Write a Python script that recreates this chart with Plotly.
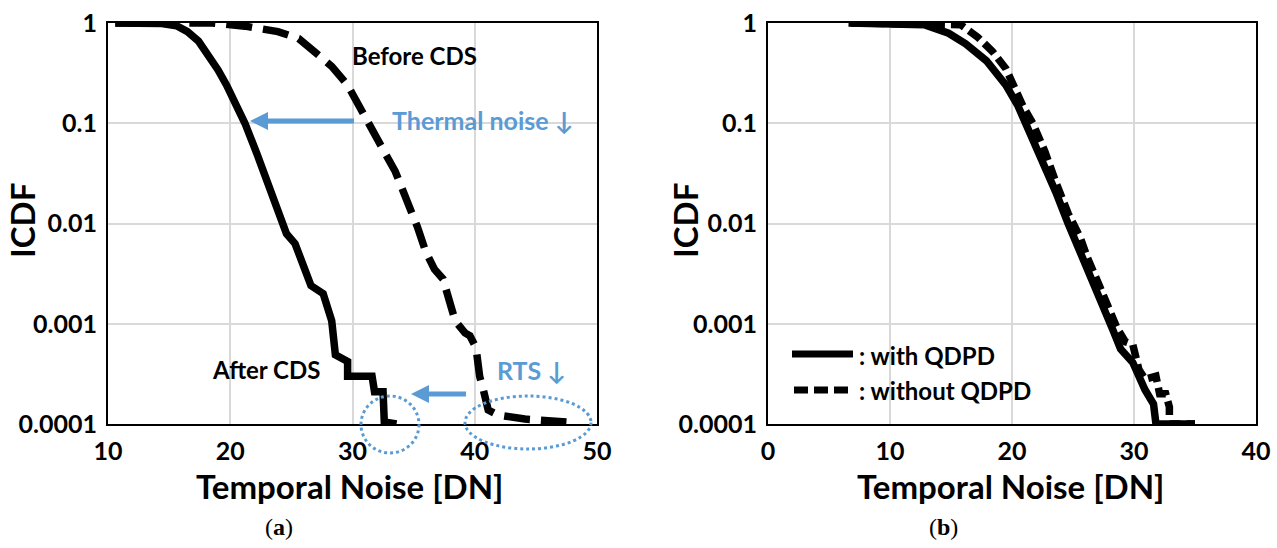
import plotly.graph_objects as go

# ---------------- data ----------------
# (a) After CDS (solid)
after_x = [10.6, 14.4, 15.6, 16.5, 17.4, 18.2, 19.0, 19.7, 20.5, 21.2, 22.2, 23.2, 23.9, 24.6,
           25.3, 25.9, 26.6, 27.6, 28.3, 28.6, 29.0, 29.6, 29.6, 31.6, 31.8, 32.5, 32.6, 33.6]
after_y = [1.0, 0.99, 0.94, 0.82, 0.66, 0.49, 0.34, 0.24, 0.155, 0.1, 0.049, 0.022, 0.0126,
           0.0079, 0.0063, 0.0039, 0.0024, 0.002, 0.00107, 0.00049, 0.00046, 0.00042, 0.0003,
           0.0003, 0.00021, 0.00021, 0.000105, 0.0001]
# (a) Before CDS (dashed)
before_x = [10.6, 18.5, 21.2, 23.9, 25.6, 26.9, 28.3, 29.6, 30.6, 31.6, 32.6, 33.5, 34.3, 35.3,
            36.0, 36.7, 37.4, 38.0, 38.4, 39.2, 39.6, 40.1, 40.4, 40.7, 41.1, 41.9, 44.1, 47.5]
before_y = [1.0, 1.0, 0.93, 0.82, 0.7, 0.52, 0.37, 0.24, 0.148, 0.085, 0.052, 0.033, 0.019,
            0.0093, 0.0052, 0.0035, 0.0028, 0.0016, 0.00107, 0.00081, 0.00076, 0.00058,
            0.0003, 0.00022, 0.000138, 0.000123, 0.000112, 0.000105]
# (b) with QDPD (solid)
with_x = [6.6, 12.8, 14.8, 16.2, 17.9, 19.5, 20.5, 21.5, 22.6, 23.6, 24.6, 25.6, 26.6, 27.6,
          28.3, 28.9, 29.9, 30.9, 31.6, 31.8, 35.0]
with_y = [1.0, 0.96, 0.79, 0.62, 0.42, 0.24, 0.148, 0.079, 0.042, 0.0204, 0.01, 0.0052,
          0.00275, 0.00148, 0.00085, 0.00056, 0.00041, 0.00022, 0.000158, 0.0001, 0.0001]
# (b) without QDPD (dashed)
without_x = [6.8, 15.8, 17.2, 18.4, 19.5, 20.2, 20.9, 21.7, 22.7, 23.6, 24.6, 25.6, 26.2, 27.2,
             27.9, 28.6, 29.3, 29.9, 30.4, 30.9, 31.8, 32.1, 32.6, 32.9, 32.9, 35.0]
without_y = [1.0, 0.96, 0.72, 0.52, 0.35, 0.22, 0.148, 0.1, 0.052, 0.0257, 0.0126, 0.0072,
             0.0045, 0.00234, 0.00148, 0.00091, 0.00066, 0.00062, 0.00035, 0.00028,
             0.0003, 0.0002, 0.0002, 0.000148, 0.0001, 0.0001]

ytick_vals = [0.0001, 0.001, 0.01, 0.1, 1]
ytick_text = ["0.0001", "0.001", "0.01", "0.1", "1"]
xticks_a = [10, 20, 30, 40, 50]
xticks_b = [0, 10, 20, 30, 40]

W, H = 1277, 548
BLUE = "#5B9BD5"
FONT = "Lato"


def px(x):
    return x / W


def py(y):
    return 1 - y / H


def b(s):
    return "<b>" + str(s) + "</b>"


fig = go.Figure()
line_w = 7.5
dash_pat = "26px,11px"

fig.add_trace(go.Scatter(x=after_x, y=after_y, mode="lines", xaxis="x", yaxis="y",
                         line=dict(color="black", width=line_w), showlegend=False))
fig.add_trace(go.Scatter(x=before_x, y=before_y, mode="lines", xaxis="x", yaxis="y",
                         line=dict(color="black", width=line_w, dash=dash_pat), showlegend=False))
fig.add_trace(go.Scatter(x=without_x, y=without_y, mode="lines", xaxis="x2", yaxis="y2",
                         line=dict(color="black", width=line_w, dash="14px,6px"), showlegend=False))
fig.add_trace(go.Scatter(x=with_x, y=with_y, mode="lines", xaxis="x2", yaxis="y2",
                         line=dict(color="black", width=line_w), showlegend=False))

tickfont = dict(family=FONT, size=25, color="black")

common_x = dict(showline=True, linecolor="black", linewidth=2, mirror=True, ticks="",
                showgrid=True, gridcolor="#d9d9d9", gridwidth=1.5, tickfont=tickfont,
                automargin=False, zeroline=False, ticklabelstandoff=4)
common_y = dict(type="log", range=[-4, 0], tickvals=ytick_vals, ticktext=[b(t) for t in ytick_text],
                showline=True, linecolor="black", linewidth=2, mirror=True, ticks="",
                showgrid=True, gridcolor="#d9d9d9", gridwidth=1.5, tickfont=tickfont,
                automargin=False, zeroline=False, ticklabelstandoff=4)

y_dom = [py(424), py(23)]
fig.update_layout(
    width=W, height=H, margin=dict(l=0, r=0, t=0, b=0, autoexpand=False),
    plot_bgcolor="white", paper_bgcolor="white",
    xaxis=dict(domain=[px(108), px(597)], range=[10, 50], tickvals=xticks_a,
               ticktext=[b(t) for t in xticks_a], anchor="y", **common_x),
    yaxis=dict(domain=y_dom, anchor="x", **common_y),
    xaxis2=dict(domain=[px(768), px(1256)], range=[0, 40], tickvals=xticks_b,
                ticktext=[b(t) for t in xticks_b], anchor="y2", **common_x),
    yaxis2=dict(domain=y_dom, anchor="x2", **common_y),
)

title_font = dict(family=FONT, size=33, color="black")
ann_font = dict(family=FONT, size=24, color="black")
blue_font = dict(family=FONT, size=25, color=BLUE)
cap_font = dict(family="Liberation Serif", size=24, color="black")
annots = [
    dict(x=px(349), y=py(486), text=b("Temporal Noise [DN]"), font=title_font),
    dict(x=px(1010), y=py(486), text=b("Temporal Noise [DN]"), font=title_font),
    dict(x=px(22), y=py(221), text=b("ICDF"), font=title_font, textangle=-90),
    dict(x=px(685), y=py(221), text=b("ICDF"), font=title_font, textangle=-90),
    dict(x=px(414), y=py(56), text=b("Before CDS"), font=ann_font),
    dict(x=px(482), y=py(120), text=b("Thermal noise ↓"), font=blue_font),
    dict(x=px(266), y=py(369), text=b("After CDS"), font=ann_font),
    dict(x=px(531), y=py(370), text=b("RTS ↓"), font=blue_font),
    dict(x=px(857), y=py(355), text=b(": with QDPD"), font=ann_font, xanchor="left"),
    dict(x=px(857), y=py(390), text=b(": without QDPD"), font=ann_font, xanchor="left"),
    dict(x=px(279), y=py(527), text="(<b>a</b>)", font=cap_font),
    dict(x=px(943), y=py(527), text="(<b>b</b>)", font=cap_font),
]
for a in annots:
    a.setdefault("xanchor", "center")
    fig.add_annotation(xref="paper", yref="paper", showarrow=False, yanchor="middle", **a)

shapes = []


def arrow(x_tail, x_tip, yy, head=18, half=9, width=5):
    shapes.append(dict(type="line", xref="paper", yref="paper",
                       x0=px(x_tail), x1=px(x_tip + head - 1), y0=py(yy), y1=py(yy),
                       line=dict(color=BLUE, width=width)))
    path = "M {},{} L {},{} L {},{} Z".format(px(x_tip), py(yy), px(x_tip + head), py(yy - half),
                                              px(x_tip + head), py(yy + half))
    shapes.append(dict(type="path", xref="paper", yref="paper", path=path,
                       fillcolor=BLUE, line=dict(color=BLUE, width=0)))


arrow(354, 250, 121)
arrow(466, 411, 394)

# dotted ellipses
shapes.append(dict(type="circle", xref="paper", yref="paper",
                   x0=px(361), x1=px(419), y0=py(453), y1=py(396),
                   line=dict(color=BLUE, width=3, dash="dot")))
shapes.append(dict(type="circle", xref="paper", yref="paper",
                   x0=px(465), x1=px(591), y0=py(449), y1=py(396),
                   line=dict(color=BLUE, width=3, dash="dot")))

# legend samples
shapes.append(dict(type="line", xref="paper", yref="paper", x0=px(792), x1=px(853),
                   y0=py(354), y1=py(354), line=dict(color="black", width=7)))
shapes.append(dict(type="line", xref="paper", yref="paper", x0=px(794), x1=px(853),
                   y0=py(390), y1=py(390), line=dict(color="black", width=7, dash="14px,6px")))

fig.update_layout(shapes=shapes)
fig.write_html("out.html")
